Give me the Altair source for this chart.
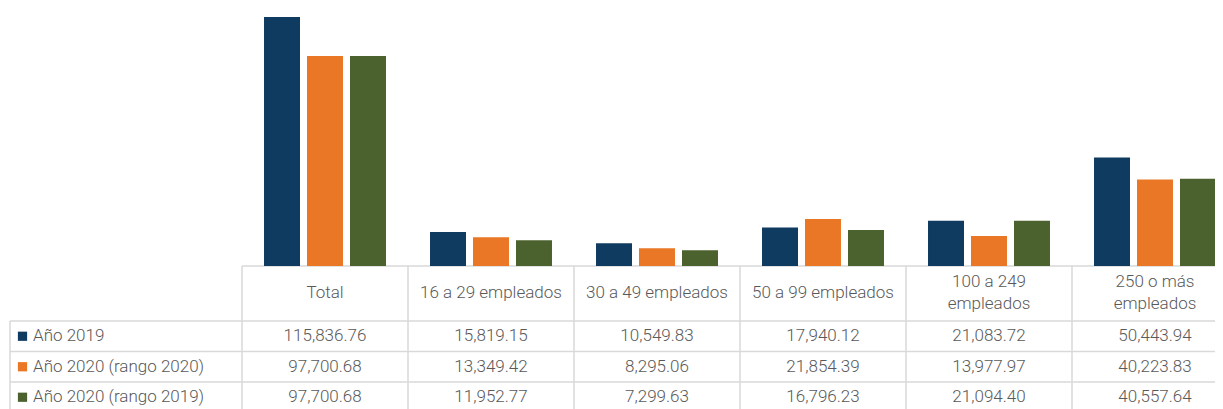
import altair as alt
import pandas as pd

categories = ["Total", "16 a 29 empleados", "30 a 49 empleados", "50 a 99 empleados",
              "100 a 249 empleados", "250 o más empleados"]
header_labels = ["Total", "16 a 29 empleados", "30 a 49 empleados", "50 a 99 empleados",
                 "100 a 249\nempleados", "250 o más\nempleados"]
header_lines = [1, 1, 1, 1, 2, 2]
series = ["Año 2019", "Año 2020 (rango 2020)", "Año 2020 (rango 2019)"]
v2019 = [115836.76, 15819.15, 10549.83, 17940.12, 21083.72, 50443.94]
v2020_r2020 = [97700.68, 13349.42, 8295.06, 21854.39, 13977.97, 40223.83]
v2020_r2019 = [97700.68, 11952.77, 7299.63, 16796.23, 21094.40, 40557.64]
colors = ["#103b60", "#e97726", "#4b622e"]

rows = []
for s, vals in zip(series, [v2019, v2020_r2020, v2020_r2019]):
    for c, v in zip(categories, vals):
        rows.append({"cat": c, "series": s, "value": v})
df = pd.DataFrame(rows)
hdr = pd.DataFrame({"cat": categories, "header": header_labels, "n": header_lines})
ser = pd.DataFrame({"series": series})

FONT = "Roboto"
FS = 17
TXT = "#595959"
GRID = "#d9d9d9"

xscale = alt.Scale(domain=categories, paddingInner=0, paddingOuter=0, range=[0, 996])
rowscale = alt.Scale(type="band", domain=series, range=[313, 404.5], paddingInner=0, paddingOuter=0)
cscale = alt.Scale(domain=series, range=colors)

bars = alt.Chart(df).mark_bar().encode(
    x=alt.X("cat:N", scale=xscale, axis=None, sort=categories),
    xOffset=alt.XOffset("series:N", scale=alt.Scale(domain=series, paddingInner=0.163, paddingOuter=0.512)),
    y=alt.Y("value:Q", scale=alt.Scale(domain=[0, 120000], range=[258, 0]), axis=None),
    color=alt.Color("series:N", scale=cscale, legend=None),
)

cells = alt.Chart(df).mark_text(font=FONT, fontSize=FS, color=TXT, fontWeight=300).encode(
    x=alt.X("cat:N", scale=xscale, axis=None),
    y=alt.Y("series:N", scale=rowscale, axis=None),
    text=alt.Text("value:Q", format=",.2f"),
)

headers1 = alt.Chart(hdr).transform_filter("datum.n == 1").mark_text(
    font=FONT, fontSize=FS, color=TXT, fontWeight=300).encode(
    x=alt.X("cat:N", scale=xscale, axis=None),
    y=alt.value(285),
    text="header:N",
)

headers2 = alt.Chart(hdr).transform_filter("datum.n == 2").mark_text(
    font=FONT, fontSize=FS, color=TXT, fontWeight=300, lineBreak="\n", lineHeight=22).encode(
    x=alt.X("cat:N", scale=xscale, axis=None),
    y=alt.value(274),
    text="header:N",
)

squares = alt.Chart(ser).mark_square(size=85, opacity=1, filled=True).encode(
    x=alt.value(-219.5),
    y=alt.Y("series:N", scale=rowscale, axis=None),
    color=alt.Color("series:N", scale=cscale, legend=None),
)

labels = alt.Chart(ser).mark_text(font=FONT, fontSize=FS, color=TXT, fontWeight=300, align="left").encode(
    x=alt.value(-209),
    y=alt.Y("series:N", scale=rowscale, axis=None),
    text="series:N",
)

vrules = alt.Chart(hdr).mark_rule(color=GRID, strokeWidth=1.5).encode(
    x=alt.X("cat:N", scale=xscale, axis=None, bandPosition=0),
    y=alt.value(258),
    y2=alt.value(404.5),
)

vleft = alt.Chart(ser.head(1)).mark_rule(color=GRID, strokeWidth=1.5).encode(
    x=alt.value(-232),
    y=alt.value(313),
    y2=alt.value(404.5),
)

hrules = alt.Chart(ser).mark_rule(color=GRID, strokeWidth=1.5).encode(
    y=alt.Y("series:N", scale=rowscale, axis=None, bandPosition=0),
    x=alt.value(-232),
    x2=alt.value(996),
)

htop = alt.Chart(ser.head(1)).mark_rule(color=GRID, strokeWidth=1.5).encode(
    y=alt.value(258),
    x=alt.value(0),
    x2=alt.value(996),
)

chart = alt.layer(
    vrules, vleft, hrules, htop, bars, cells, headers1, headers2, squares, labels
).resolve_scale(y="independent").properties(
    width=973, height=401,
    padding={"left": 234, "top": 0, "right": 0, "bottom": 0},
    autosize=alt.AutoSizeParams(type="none"),
).configure_view(stroke=None)

chart.save("out.html", embed_options={"renderer": "svg", "actions": False})
